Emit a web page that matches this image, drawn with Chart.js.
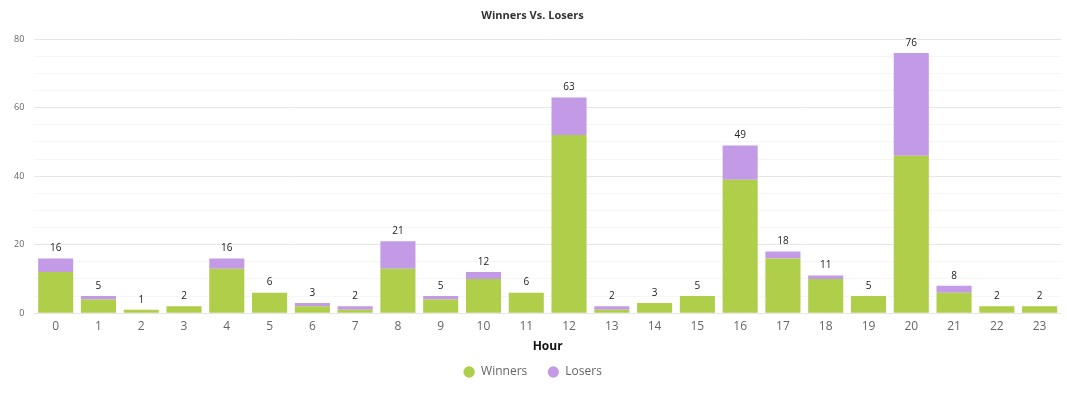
<!DOCTYPE html>
<html>
<head>
<meta charset="utf-8">
<script src="https://cdn.jsdelivr.net/npm/chart.js@4"></script>
<style>
  html, body { margin: 0; padding: 0; background: #fff; }
  #wrap { width: 1067px; height: 397px; }
</style>
</head>
<body>
<div id="wrap"><canvas id="winLose"></canvas></div>
<script>
// Hours of the day (x categories)
const hours = ['0','1','2','3','4','5','6','7','8','9','10','11','12','13','14','15','16','17','18','19','20','21','22','23'];

// Stacked series
const winners = [12, 4, 1, 2, 13, 6, 2, 1, 13, 4, 10, 6, 52, 1, 3, 5, 39, 16, 10, 5, 46, 6, 2, 2];
const losers  = [4, 1, 0, 0, 3, 0, 1, 1, 8, 1, 2, 0, 11, 1, 0, 0, 10, 2, 1, 0, 30, 2, 0, 0];

const yMax = 80;
const yStep = 5;
const yLabelEvery = 20;

// Draw the stack total above every bar.
const totalsPlugin = {
  id: 'totals',
  afterDatasetsDraw(chart) {
    const ctx = chart.ctx;
    const top = chart.getDatasetMeta(1).data;
    ctx.save();
    ctx.font = '10px "Open Sans", sans-serif';
    ctx.fillStyle = '#222';
    ctx.textAlign = 'center';
    ctx.textBaseline = 'bottom';
    hours.forEach((h, i) => {
      const total = winners[i] + losers[i];
      const y = chart.scales.y.getPixelForValue(total);
      ctx.fillText(String(total), top[i].x, y - 5);
    });
    ctx.restore();
  }
};

const renderChart = () => {
  const canvas = document.getElementById('winLose');
  new Chart(canvas, {
    type: 'bar',
    data: {
      labels: hours,
      datasets: [
        { label: 'Winners', data: winners, backgroundColor: '#afce4a' },
        { label: 'Losers', data: losers, backgroundColor: '#c39ae6' }
      ]
    },
    options: {
      responsive: true,
      maintainAspectRatio: false,
      animation: false,
      layout: { padding: { left: 4, right: 6, top: 2, bottom: 9 } },
      datasets: { bar: { categoryPercentage: 1, barPercentage: 0.82 } },
      plugins: {
        title: {
          display: true,
          text: 'Winners Vs. Losers',
          color: '#333',
          font: { family: '"Open Sans", sans-serif', size: 11, weight: 'bold' },
          padding: { top: 7, bottom: 17 }
        },
        legend: {
          position: 'bottom',
          labels: {
            usePointStyle: true,
            pointStyle: 'circle',
            boxWidth: 12,
            boxHeight: 8,
            padding: 20,
            color: '#666',
            font: { family: '"Open Sans", sans-serif', size: 12 }
          }
        },
        tooltip: { enabled: false }
      },
      scales: {
        x: {
          stacked: true,
          grid: { display: false, drawTicks: false },
          border: { display: false },
          ticks: { color: '#666', font: { family: '"Open Sans", sans-serif', size: 12 }, padding: 6 },
          title: {
            display: true,
            text: 'Hour',
            color: '#111',
            font: { family: '"Open Sans", sans-serif', size: 12, weight: 'bold' },
            padding: { top: 0, bottom: -8 }
          }
        },
        y: {
          stacked: true,
          min: 0,
          max: yMax,
          border: { display: false },
          grid: {
            drawTicks: false,
            color: (c) => (c.tick && c.tick.value % yLabelEvery === 0) ? '#e6e6e6' : '#f6f6f6'
          },
          ticks: {
            stepSize: yStep,
            autoSkip: false,
            padding: 10,
            color: '#666',
            font: { family: '"Open Sans", sans-serif', size: 9 },
            callback: (v) => (v % yLabelEvery === 0 ? v : '')
          }
        }
      }
    },
    plugins: [totalsPlugin]
  });
};

renderChart();
</script>
</body>
</html>
